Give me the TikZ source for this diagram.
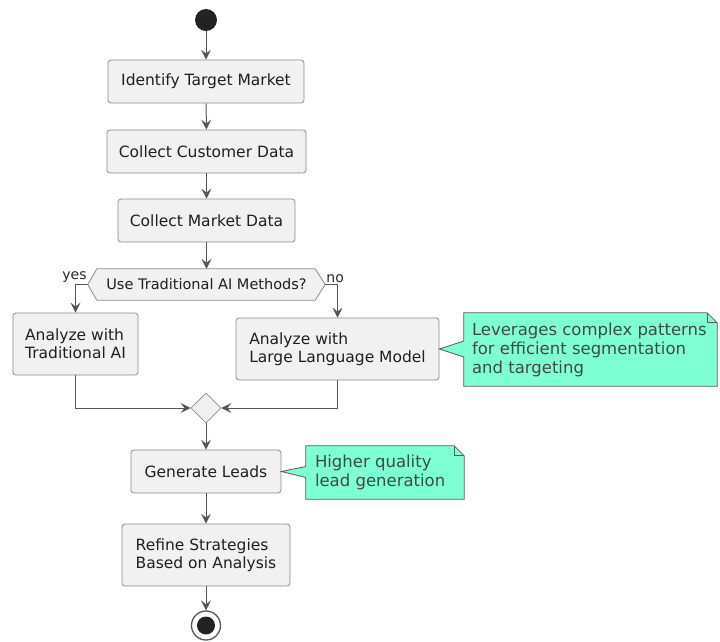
\documentclass[tikz,border=0pt]{standalone}
\usepackage{fontspec}
\setmainfont{DejaVu Sans}
\usetikzlibrary{arrows.meta,shapes.geometric,calc}
\definecolor{boxfill}{HTML}{F1F1F1}
\definecolor{boxline}{HTML}{8C8C8C}
\definecolor{flow}{HTML}{555555}
\definecolor{notefill}{HTML}{7FFFD4}
\definecolor{noteline}{HTML}{5A5A5A}
\definecolor{notetext}{HTML}{3E4A46}
\definecolor{dot}{HTML}{222222}
\begin{document}
\begin{tikzpicture}[x=1pt,y=-1pt,
  act/.style={draw=boxline, fill=boxfill, rounded corners=3pt, line width=0.8pt,
    inner sep=0pt, align=left, text=black!88, font=\fontsize{15.5}{18}\selectfont},
  flowarrow/.style={draw=flow, line width=1pt,
    -{Stealth[inset=4pt,length=10pt,width=10pt]}},
  notebody/.style={draw=none, inner sep=0pt, align=left, text=notetext,
    font=\fontsize{16.5}{19}\selectfont},
  noteshape/.style={draw=noteline, fill=notefill, line width=0.8pt},
  hexlabel/.style={minimum width=237, minimum height=31, inner sep=0pt,
    font=\fontsize{14.5}{16}\selectfont, text=black!88},
  branchlabel/.style={inner sep=1pt, font=\fontsize{14}{16}\selectfont, text=black!85}
]
\useasboundingbox (0,0) rectangle (720,641);

% start marker
\node[circle, fill=dot, minimum size=22pt, inner sep=0pt] (start) at (206,20) {};

% main activities
\node[act, minimum width=196, minimum height=43] (identify) at (206,81.5) {Identify Target Market};
\node[act, minimum width=199, minimum height=43] (customer) at (206.5,151.5) {Collect Customer Data};
\node[act, minimum width=177, minimum height=43] (market) at (206.5,220.5) {Collect Market Data};

% decision hexagon
\node[hexlabel] (decide) at (206.5,284.5) {};
\draw[draw=boxline, fill=boxfill, line width=0.8pt]
  (decide.west) -- ([xshift=9pt]decide.north west) -- ([xshift=-10pt]decide.north east)
  -- (decide.east) -- ([xshift=-10pt]decide.south east) -- ([xshift=9pt]decide.south west) -- cycle;
\node[hexlabel] (decidetext) at (decide.center) {Use Traditional AI Methods?};

% branches
\node[act, minimum width=125, minimum height=62] (tradai) at (75.5,344) {Analyze with\\Traditional AI};
\node[act, minimum width=203, minimum height=62] (llm) at (337.5,349) {Analyze with\\Large Language Model};

% merge point
\node[diamond, draw=boxline, fill=boxfill, line width=0.8pt, minimum width=30pt,
  minimum height=30pt, inner sep=0pt] (merge) at (206,408) {};

\node[act, minimum width=150, minimum height=43] (leads) at (206,471.5) {Generate Leads};
\node[act, minimum width=168, minimum height=62] (refine) at (206,555) {Refine Strategies\\Based on Analysis};

% end marker
\node[circle, draw=flow, fill=white, line width=1.3pt, minimum size=29pt, inner sep=0pt] (stop) at (206,625.5) {};
\node[circle, fill=dot, minimum size=18pt, inner sep=0pt] (stopdot) at (stop.center) {};

% note beside the language model step
\node[notebody, minimum width=253, minimum height=73] (note1) at (590.5,349.5) {};
\draw[noteshape]
  (note1.north west) -- ([xshift=-10pt]note1.north east) -- ([yshift=-10pt]note1.north east)
  -- (note1.south east) -- (note1.south west) -- ([yshift=-7.5pt]note1.west)
  -- (llm.east) -- ([yshift=8.5pt]note1.west) -- cycle;
\draw[draw=noteline, line width=0.8pt]
  ([xshift=-10pt]note1.north east) -- ([xshift=-10pt,yshift=-10pt]note1.north east) -- ([yshift=-10pt]note1.north east);
\node[notebody, anchor=west] (note1text) at ([xshift=8pt]note1.west)
  {Leverages complex patterns\\for efficient segmentation\\and targeting};

% note beside lead generation
\node[notebody, minimum width=158, minimum height=53] (note2) at (385,472.5) {};
\draw[noteshape]
  (note2.north west) -- ([xshift=-10pt]note2.north east) -- ([yshift=-10pt]note2.north east)
  -- (note2.south east) -- (note2.south west) -- ([yshift=-5pt]note2.west)
  -- (leads.east) -- ([yshift=6pt]note2.west) -- cycle;
\draw[draw=noteline, line width=0.8pt]
  ([xshift=-10pt]note2.north east) -- ([xshift=-10pt,yshift=-10pt]note2.north east) -- ([yshift=-10pt]note2.north east);
\node[notebody, anchor=west] (note2text) at ([xshift=9pt]note2.west)
  {Higher quality\\lead generation};

% connectors
\draw[flowarrow] (start) -- (identify);
\draw[flowarrow] (identify) -- (customer);
\draw[flowarrow] (customer) -- (market);
\draw[flowarrow] (market) -- (decide.north);
\draw[flowarrow] (decide.west) -| (tradai.north);
\draw[flowarrow] (decide.east) -| (llm.north);
\draw[flowarrow] (tradai.south) |- (merge.west);
\draw[flowarrow] (llm.south) |- (merge.east);
\draw[flowarrow] (merge) -- (leads);
\draw[flowarrow] (leads) -- (refine);
\draw[flowarrow] (refine) -- (stop);

% branch labels
\node[branchlabel, anchor=south east] (yes) at ([yshift=1pt]decide.west) {yes};
\node[branchlabel, anchor=south west] (no) at ([yshift=1pt]decide.east) {no};
\end{tikzpicture}
\end{document}
